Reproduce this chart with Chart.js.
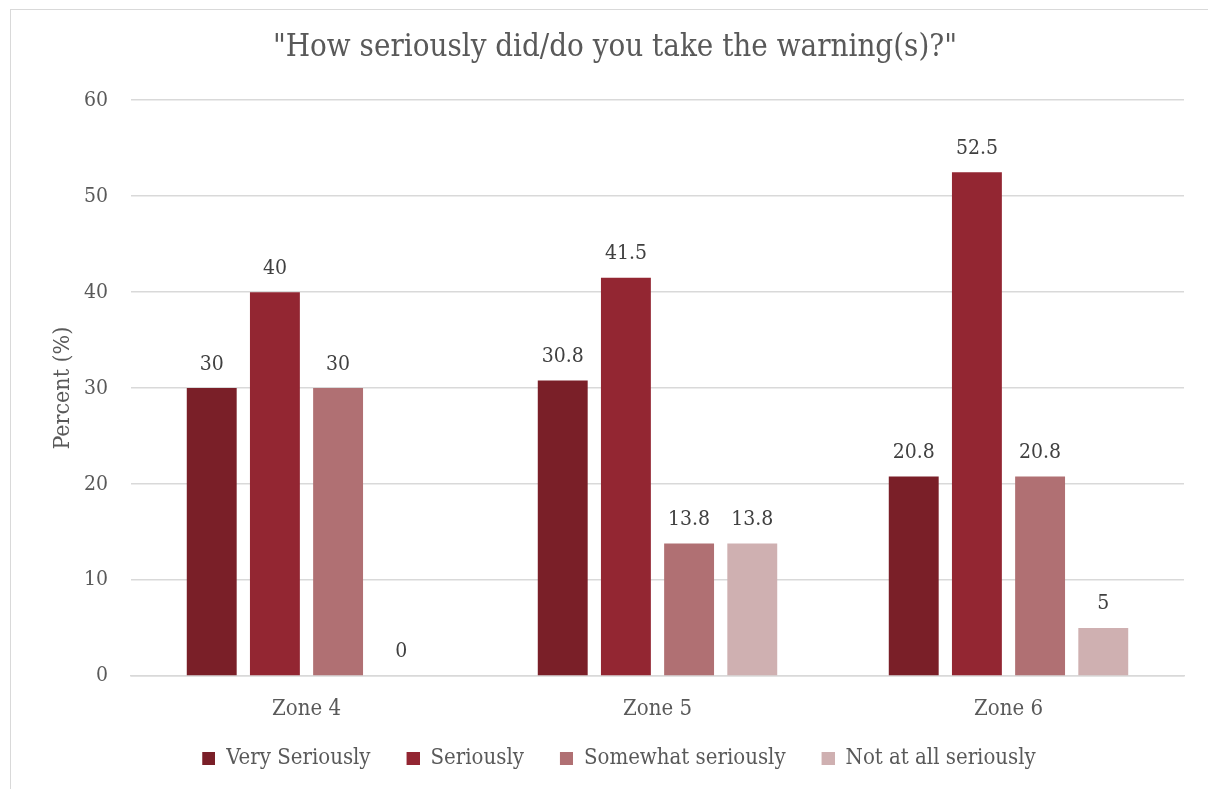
<!DOCTYPE html>
<html>
<head>
<meta charset="utf-8">
<script src="https://cdn.jsdelivr.net/npm/chart.js@4.4.0/dist/chart.umd.min.js"></script>
<style>
  html, body { margin: 0; padding: 0; background: #fff; overflow: hidden; }
  #wrap { position: absolute; left: 0; top: 0; width: 1208px; height: 789px; }
  #frame { position: absolute; left: 10px; top: 9px; width: 1220px; height: 800px; border: 1px solid #d9d9d9; box-sizing: border-box; pointer-events: none; }
</style>
</head>
<body>
<div id="wrap"><canvas id="c" width="1208" height="789"></canvas></div>
<div id="frame"></div>
<script>
const categories = ["Zone 4", "Zone 5", "Zone 6"];
const seriesNames = ["Very Seriously", "Seriously", "Somewhat seriously", "Not at all seriously"];
const verySeriously = [30, 30.8, 20.8];
const seriously = [40, 41.5, 52.5];
const somewhatSeriously = [30, 13.8, 20.8];
const notAtAllSeriously = [0, 13.8, 5];
const yTicks = [0, 10, 20, 30, 40, 50, 60];
const colors = ["#7A1F28", "#932632", "#B07073", "#CFB0B1"];
const FONT = "'DejaVu Serif Condensed', 'Liberation Serif', serif";

// legend swatch: 13px square at the right of a wider image (left part is spacing)
function makeSwatch(color) {
  const c = document.createElement('canvas');
  c.width = 21; c.height = 13;
  const g = c.getContext('2d');
  g.fillStyle = color;
  g.fillRect(8, 0, 13, 13);
  return c;
}
const swatches = colors.map(makeSwatch);

const valueLabels = {
  id: 'valueLabels',
  afterDatasetsDraw(chart) {
    const ctx = chart.ctx;
    ctx.save();
    ctx.font = "21px " + FONT;
    ctx.fillStyle = "#404040";
    ctx.textAlign = "center";
    ctx.textBaseline = "middle";
    chart.data.datasets.forEach((ds, i) => {
      const meta = chart.getDatasetMeta(i);
      meta.data.forEach((bar, j) => {
        ctx.fillText(String(ds.data[j]), bar.x, bar.y - 24);
      });
    });
    ctx.restore();
  }
};

const allSeries = [verySeriously, seriously, somewhatSeriously, notAtAllSeriously];
new Chart(document.getElementById('c'), {
  type: 'bar',
  data: {
    labels: categories,
    datasets: allSeries.map((d, i) => ({
      label: seriesNames[i],
      data: d,
      backgroundColor: colors[i],
      borderWidth: 0,
      barPercentage: 0.79,
      categoryPercentage: 0.72
    }))
  },
  options: {
    responsive: false,
    animation: false,
    devicePixelRatio: 1,
    layout: { padding: { top: 29, left: 46, right: 24, bottom: 10 } },
    plugins: {
      title: {
        display: true,
        text: '"How seriously did/do you take the warning(s)?"',
        color: "#595959",
        font: { family: FONT, size: 31, weight: 'normal' },
        padding: { top: 0, bottom: 34 }
      },
      legend: {
        position: 'bottom',
        labels: {
          color: "#595959",
          font: { family: FONT, size: 22 },
          usePointStyle: true,
          pointStyleWidth: 21,
          boxHeight: 13,
          padding: 28,
          generateLabels(chart) {
            const items = Chart.defaults.plugins.legend.labels.generateLabels(chart);
            items.forEach((it, i) => { it.pointStyle = swatches[i]; });
            return items;
          }
        }
      },
      tooltip: { enabled: false }
    },
    scales: {
      x: {
        grid: { display: false, drawTicks: false },
        border: { display: true, color: "#d9d9d9", width: 1.5 },
        ticks: { color: "#595959", font: { family: FONT, size: 22 }, padding: 20 },
        afterFit(axis) { axis.height = 43; }
      },
      y: {
        min: 0, max: 60,
        afterBuildTicks(axis) { axis.ticks = yTicks.map(v => ({ value: v })); },
        grid: { color: "#d9d9d9", lineWidth: 1.5, drawTicks: false },
        border: { display: false },
        ticks: { color: "#595959", font: { family: FONT, size: 21 }, padding: 23 },
        title: {
          display: true,
          text: "Percent (%)",
          color: "#595959",
          font: { family: FONT, size: 23 },
          padding: { top: 3, bottom: 8 }
        },
        afterFit(axis) { axis.width = 85; }
      }
    }
  },
  plugins: [valueLabels]
});
</script>
</body>
</html>
